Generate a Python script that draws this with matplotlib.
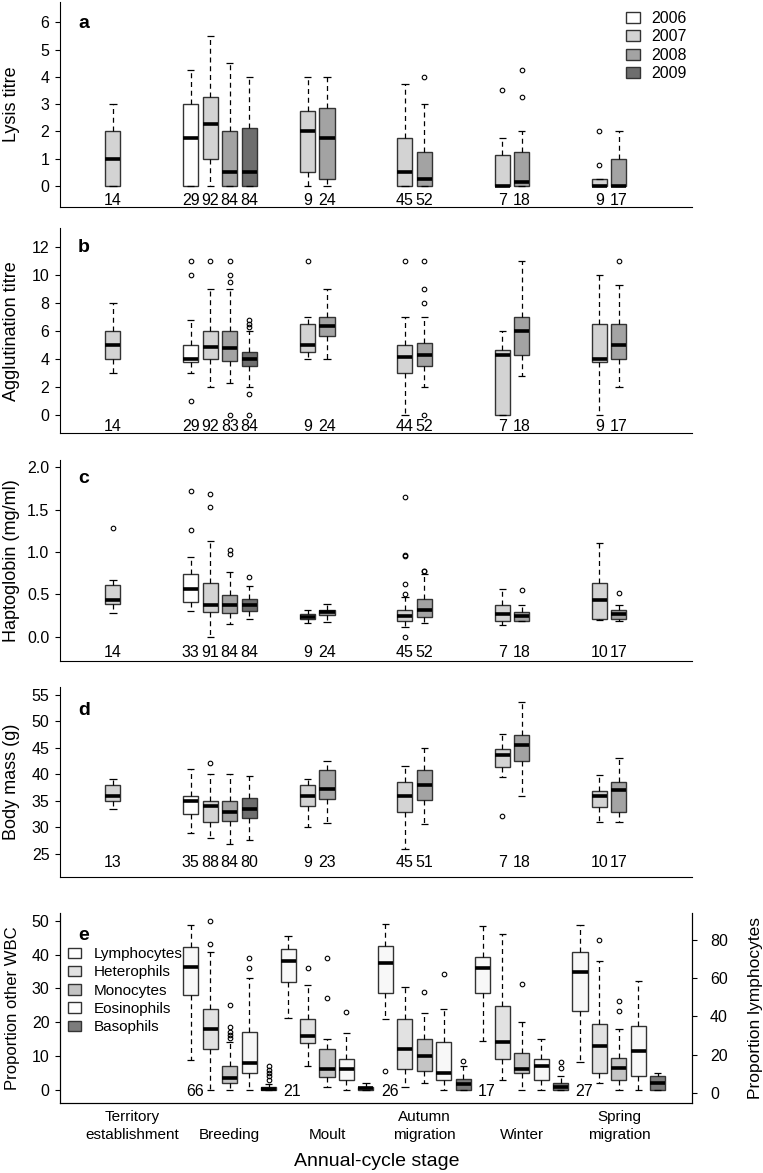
import matplotlib.pyplot as plt
from matplotlib.patches import Patch
from matplotlib.transforms import blended_transform_factory

plt.rcParams['font.family'] = ['Liberation Sans', 'DejaVu Sans']

# stages and years
stage_top = ['Territory', '', '', 'Autumn', '', 'Spring']
stage_bottom = ['establishment', 'Breeding', 'Moult', 'migration', 'Winter', 'migration']
years = ['2006', '2007', '2008', '2009']
year_colors = ['#ffffff', '#d3d3d3', '#a3a3a3', '#6e6e6e']

# which stage / year each box of panels a-d belongs to
box_stage = [0, 1, 1, 1, 1, 2, 2, 3, 3, 4, 4, 5, 5]
box_year = [1, 0, 1, 2, 3, 1, 2, 1, 2, 1, 2, 1, 2]

# a - lysis titre
lys_n = [14, 29, 92, 84, 84, 9, 24, 45, 52, 7, 18, 9, 17]
lys_med = [1.0, 1.75, 2.25, 0.5, 0.5, 2.0, 1.75, 0.5, 0.25, 0.0, 0.12, 0.0, 0.0]
lys_q1 = [0, 0, 1.0, 0, 0, 0.5, 0.25, 0, 0, 0, 0, 0, 0]
lys_q3 = [2.0, 3.0, 3.25, 2.0, 2.12, 2.75, 2.87, 1.75, 1.25, 1.12, 1.25, 0.25, 1.0]
lys_lo = [0, 0, 0, 0, 0, 0, 0, 0, 0, 0, 0, 0, 0]
lys_hi = [3.0, 4.25, 5.5, 4.5, 4.0, 4.0, 4.0, 3.75, 3.0, 1.75, 2.0, 0.25, 2.0]
lys_out = [[], [], [], [], [], [], [], [], [4.0], [3.5], [3.25, 4.25], [0.75, 2.0], []]

# b - agglutination titre
agg_n = [14, 29, 92, 83, 84, 9, 24, 44, 52, 7, 18, 9, 17]
agg_med = [5.0, 4.0, 4.87, 4.75, 4.0, 5.0, 6.37, 4.12, 4.25, 4.25, 6.0, 4.0, 5.0]
agg_q1 = [4.0, 3.75, 4.0, 3.87, 3.5, 4.5, 5.6, 3.0, 3.5, 0.0, 4.25, 3.75, 4.0]
agg_q3 = [6.0, 5.0, 6.0, 6.0, 4.5, 6.5, 7.0, 5.0, 5.1, 4.62, 7.0, 6.5, 6.5]
agg_lo = [3.0, 3.0, 2.0, 2.25, 2.0, 4.0, 4.0, 0.0, 2.0, 0.0, 2.75, 0.0, 2.0]
agg_hi = [8.0, 6.75, 9.0, 9.0, 6.0, 7.0, 9.0, 7.0, 7.0, 6.0, 11.0, 10.0, 9.25]
agg_out = [[], [1, 10, 11], [11], [0, 9.5, 10, 11], [0, 1.5, 6.25, 6.5, 6.75], [11], [],
           [11], [0, 8, 9, 11], [], [], [], [11]]

# c - haptoglobin
hap_n = [14, 33, 91, 84, 84, 9, 24, 45, 52, 7, 18, 10, 17]
hap_med = [0.43, 0.56, 0.37, 0.37, 0.375, 0.235, 0.29, 0.25, 0.31, 0.27, 0.245, 0.43, 0.27]
hap_q1 = [0.39, 0.41, 0.29, 0.285, 0.30, 0.205, 0.26, 0.19, 0.235, 0.18, 0.19, 0.205, 0.21]
hap_q3 = [0.61, 0.74, 0.63, 0.49, 0.45, 0.27, 0.32, 0.31, 0.44, 0.38, 0.295, 0.64, 0.31]
hap_lo = [0.28, 0.30, 0.0, 0.145, 0.205, 0.165, 0.177, 0.11, 0.165, 0.14, 0.19, 0.197, 0.18]
hap_hi = [0.67, 0.94, 1.13, 0.76, 0.60, 0.32, 0.386, 0.47, 0.74, 0.56, 0.38, 1.11, 0.38]
hap_out = [[1.28], [1.26, 1.72], [1.53, 1.68], [0.98, 1.02], [0.71], [], [],
           [0.0, 0.51, 0.62, 0.95, 0.96, 1.65], [0.77, 0.78], [], [0.55], [], [0.52]]

# d - body mass
mass_n = [13, 35, 88, 84, 80, 9, 23, 45, 51, 7, 18, 10, 17]
mass_med = [36.0, 35.0, 34.0, 33.0, 33.5, 36.0, 37.2, 36.0, 38.0, 43.6, 45.6, 36.0, 37.0]
mass_q1 = [35.0, 32.5, 31.0, 31.2, 31.7, 34.0, 35.4, 32.9, 35.2, 41.5, 42.6, 33.8, 32.9]
mass_q3 = [38.1, 36.0, 35.0, 35.0, 35.5, 38.0, 40.8, 38.5, 40.8, 44.8, 47.4, 36.9, 38.5]
mass_lo = [33.5, 28.9, 28.0, 26.9, 27.6, 30.0, 30.8, 25.9, 30.6, 39.6, 36.0, 31.0, 31.0]
mass_hi = [39.1, 41.0, 40.0, 40.0, 39.7, 39.1, 42.6, 41.6, 45.0, 47.6, 53.6, 39.9, 43.2]
mass_out = [[], [], [42.1], [], [], [], [], [], [], [32.2], [], [], []]

# e - white blood cells, stages Breeding..Spring migration
wbc_types = ['Lymphocytes', 'Heterophils', 'Monocytes', 'Eosinophils', 'Basophils']
wbc_colors = ['#f8f8f8', '#e2e2e2', '#c4c4c4', '#f8f8f8', '#7c7c7c']
wbc_legend_colors = ['#ffffff', '#e2e2e2', '#c4c4c4', '#ffffff', '#7c7c7c']
wbc_stage = [1, 2, 3, 4, 5]
wbc_n = [66, 21, 26, 17, 27]

lym_med = [65.6, 69.2, 67.8, 65.2, 63.2]
lym_q1 = [51.1, 57.9, 52.2, 52.2, 43.0]
lym_q3 = [76.2, 75.2, 77.0, 71.3, 73.6]
lym_lo = [17.4, 39.1, 38.9, 27.3, 16.2]
lym_hi = [87.9, 82.1, 88.2, 87.3, 87.9]
lym_out = [[], [], [11.3], [], []]

het_med = [18.1, 15.9, 12.1, 14.3, 13.0]
het_q1 = [12.0, 14.0, 6.1, 9.1, 4.9]
het_q3 = [23.9, 21.0, 21.0, 24.9, 19.4]
het_lo = [0, 7.1, 1.0, 3.0, 2.0]
het_hi = [40.8, 31.0, 30.5, 46.1, 38.1]
het_out = [[43.1, 50.0], [36.1], [], [], [44.3]]

mono_med = [3.6, 6.1, 10.1, 6.1, 6.4]
mono_q1 = [2.0, 3.9, 5.7, 4.9, 3.0]
mono_q3 = [7.1, 12.1, 15.1, 11.0, 9.5]
mono_lo = [0, 1.0, 2.0, 0, 0]
mono_hi = [14.1, 15.1, 22.6, 20.2, 17.9]
mono_out = [[15.3, 16.2, 17.0, 18.5, 25.1], [27.1, 39.1], [29.0], [31.2], [23.3, 26.4]]

eos_med = [8.1, 6.1, 4.9, 7.2, 11.6]
eos_q1 = [4.9, 3.0, 3.0, 3.0, 4.1]
eos_q3 = [17.0, 9.2, 14.1, 9.2, 19.0]
eos_lo = [0, 0, 0, 0, 0]
eos_hi = [33.2, 16.7, 23.9, 15.1, 32.1]
eos_out = [[36.1, 39.1], [23.1], [34.2], [], []]

baso_med = [0.4, 0.5, 1.7, 1.0, 2.2]
baso_q1 = [0, 0, 0, 0, 0]
baso_q3 = [1.0, 1.0, 3.2, 2.0, 4.1]
baso_lo = [0, 0, 0, 0, 0]
baso_hi = [1.8, 2.0, 7.1, 4.2, 5.1]
baso_out = [[3.0, 4.0, 5.0, 6.0, 7.0], [], [8.7], [6.6, 8.2], []]

slot = [-0.4, -0.2, 0.0, 0.2, 0.4]
W, H = 763, 1173


def draw_boxes(ax, pos, med, q1, q3, lo, hi, out, colors):
    stats = [dict(med=med[i], q1=q1[i], q3=q3[i], whislo=lo[i], whishi=hi[i], fliers=out[i])
             for i in range(len(pos))]
    bp = ax.bxp(stats, positions=pos, widths=0.155, capwidths=0.075, patch_artist=True,
                manage_ticks=False,
                boxprops=dict(edgecolor='#333333', linewidth=1.0),
                medianprops=dict(color='black', linewidth=2.6, solid_capstyle='butt'),
                whiskerprops=dict(color='black', linewidth=0.9, linestyle=(0, (4, 3))),
                capprops=dict(color='black', linewidth=0.9, solid_capstyle='butt'),
                flierprops=dict(marker='o', markersize=3.3, markerfacecolor='none',
                                markeredgecolor='black', markeredgewidth=0.8))
    for patch, c in zip(bp['boxes'], colors):
        patch.set_facecolor(c)


def panel_axes(top, bottom):
    ax = fig.add_axes([60 / W, 1 - bottom / H, (692 - 60) / W, (bottom - top) / H])
    ax.set_xlim(-0.744, 5.751)
    ax.set_xticks([])
    ax.spines['top'].set_visible(False)
    ax.spines['right'].set_visible(False)
    ax.tick_params(axis='y', length=3.6, width=0.8, pad=4, labelsize=11.5)
    return ax


fig = plt.figure(figsize=(W / 100, H / 100), dpi=100)

panels = [
    ('a', 'Lysis titre', lys_n, lys_med, lys_q1, lys_q3, lys_lo, lys_hi, lys_out),
    ('b', 'Agglutination titre', agg_n, agg_med, agg_q1, agg_q3, agg_lo, agg_hi, agg_out),
    ('c', 'Haptoglobin (mg/ml)', hap_n, hap_med, hap_q1, hap_q3, hap_lo, hap_hi, hap_out),
    ('d', 'Body mass (g)', mass_n, mass_med, mass_q1, mass_q3, mass_lo, mass_hi, mass_out),
]
tops = [1.7, 228.3, 460, 687, 913]
bottoms = [206.7, 433.3, 660.7, 877, 1103]
ylims = [(-0.77, 6.76), (-1.31, 13.3), (-0.283, 2.086), (20.66, 56.5)]
yticks = [range(0, 7), range(0, 13, 2), [0.0, 0.5, 1.0, 1.5, 2.0], range(25, 56, 5)]
n_y = [-0.53, -0.83, -0.19, 23.35]

positions = [s + slot[y] for s, y in zip(box_stage, box_year)]
colors = [year_colors[y] for y in box_year]

for k, (letter, label, n, med, q1, q3, lo, hi, out) in enumerate(panels):
    ax = panel_axes(tops[k], bottoms[k])
    draw_boxes(ax, positions, med, q1, q3, lo, hi, out, colors)
    ax.set_ylim(*ylims[k])
    ax.set_yticks(list(yticks[k]))
    if letter == 'c':
        ax.set_yticklabels(['%.1f' % v for v in yticks[k]])
    ax.set_ylabel(label, fontsize=13, va='center')
    ax.yaxis.set_label_coords(-0.0767, 0.5)
    for p, v in zip(positions, n):
        ax.text(p, n_y[k], str(v), ha='center', va='center', fontsize=11.5)
    fig.text(84 / W, 1 - [23.3, 247.3, 478.3, 710.7][k] / H, letter,
             fontsize=14, fontweight='bold', ha='center', va='center')
    if letter == 'a':
        handles = [Patch(facecolor=c, edgecolor='#333333', linewidth=1.0) for c in year_colors]
        ax.legend(handles, years, loc='upper left', bbox_to_anchor=(0.8956, 0.955),
                  frameon=False, fontsize=11.5, handlelength=0.85, handleheight=0.7,
                  handletextpad=0.7, labelspacing=0.22, borderpad=0, borderaxespad=0)

# panel e
ax = panel_axes(tops[4], bottoms[4])
ax.spines['right'].set_visible(True)
axr = ax.twinx()
axr.spines['top'].set_visible(False)
axr.set_xlim(-0.744, 5.751)
axr.set_xticks([])

draw_boxes(axr, [s + slot[0] for s in wbc_stage], lym_med, lym_q1, lym_q3, lym_lo, lym_hi,
           lym_out, [wbc_colors[0]] * 5)
others = [
    (het_med, het_q1, het_q3, het_lo, het_hi, het_out),
    (mono_med, mono_q1, mono_q3, mono_lo, mono_hi, mono_out),
    (eos_med, eos_q1, eos_q3, eos_lo, eos_hi, eos_out),
    (baso_med, baso_q1, baso_q3, baso_lo, baso_hi, baso_out),
]
for j, (med, q1, q3, lo, hi, out) in enumerate(others, start=1):
    draw_boxes(ax, [s + slot[j] for s in wbc_stage], med, q1, q3, lo, hi, out,
               [wbc_colors[j]] * 5)

ax.set_ylim(-3.84, 52.27)
ax.set_yticks(range(0, 51, 10))
axr.set_ylim(-5.2, 94.05)
axr.set_yticks(range(0, 81, 20))
axr.tick_params(axis='y', length=3.6, width=0.8, pad=9.4, labelsize=11.5)
ax.set_ylabel('Proportion other WBC', fontsize=12, va='center')
ax.yaxis.set_label_coords(-0.0744, 0.5)
axr.set_ylabel('Proportion lymphocytes', fontsize=12.5, va='center')
axr.yaxis.set_label_coords(1.101, 0.5)

for s, v in zip(wbc_stage, wbc_n):
    ax.text(s + slot[0] + 0.045, -0.5, str(v), ha='center', va='center', fontsize=11.5)

fig.text(84 / W, 1 - 935 / H, 'e', fontsize=14, fontweight='bold', ha='center', va='center')

handles = [Patch(facecolor=c, edgecolor='#333333', linewidth=1.0) for c in wbc_legend_colors]
ax.legend(handles, wbc_types, loc='upper left', bbox_to_anchor=(0.013, 0.82),
          frameon=False, fontsize=11, handlelength=0.85, handleheight=0.7,
          handletextpad=0.85, labelspacing=0.28, borderpad=0, borderaxespad=0)

# stage labels under panel e
trans = blended_transform_factory(ax.transData, ax.transAxes)
for i in range(len(stage_bottom)):
    ax.text(i, -0.072, stage_top[i], transform=trans, ha='center', va='center', fontsize=11)
    ax.text(i, -0.168, stage_bottom[i], transform=trans, ha='center', va='center', fontsize=11)

fig.text(376.8 / W, 1 - 1161.7 / H, 'Annual-cycle stage', fontsize=14, ha='center', va='center')

fig.savefig('out.png', dpi=100)
